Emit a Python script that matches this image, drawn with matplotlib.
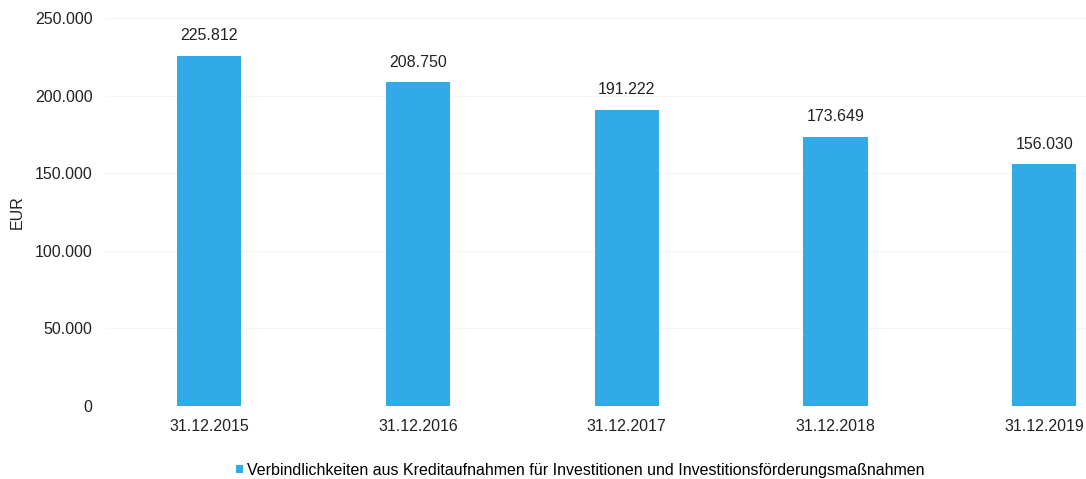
import matplotlib.pyplot as plt
from matplotlib.patches import Patch
from matplotlib.ticker import FuncFormatter

# Data
dates = ["31.12.2015", "31.12.2016", "31.12.2017", "31.12.2018", "31.12.2019"]
values = [225812, 208750, 191222, 173649, 156030]
series_name = "Verbindlichkeiten aus Kreditaufnahmen für Investitionen und Investitionsförderungsmaßnahmen"

bar_color = "#33aae8"

plt.rcParams["font.family"] = ["Liberation Sans", "DejaVu Sans"]


def de_fmt(v, pos=None):
    return f"{int(round(v)):,}".replace(",", ".")


fig = plt.figure(figsize=(10.86, 4.79), dpi=100)
ax = fig.add_axes([0.0967, 0.1524, 0.9033, 0.809])

x = range(len(dates))
bars = ax.bar(x, values, width=0.307, color=bar_color, zorder=2)

for b, v in zip(bars, values):
    ax.annotate(de_fmt(v), (b.get_x() + b.get_width() / 2, v),
                xytext=(0, 9), textcoords="offset points",
                ha="center", va="bottom", fontsize=11.5, color="#222222")

ax.set_ylim(0, 250000)
ax.set_xlim(-0.5, 4.2)
ax.set_yticks(range(0, 250001, 50000))
ax.yaxis.set_major_formatter(FuncFormatter(de_fmt))
ax.set_xticks(list(x))
ax.set_xticklabels(dates)
ax.tick_params(axis="both", length=0, labelsize=11.5, labelcolor="#222222")
ax.tick_params(axis="y", pad=9)
ax.tick_params(axis="x", pad=9)
ax.grid(axis="y", color="#f5f5f5", linewidth=1, zorder=0)
for s in ax.spines.values():
    s.set_visible(False)

ax.set_ylabel("EUR", fontsize=11.5, color="#222222", labelpad=7.5)

fig.legend(handles=[Patch(facecolor=bar_color, label=series_name)],
           loc="center", bbox_to_anchor=(580 / 1086, 1 - 470 / 479), frameon=False,
           fontsize=11.5, handlelength=0.45, handleheight=0.45, handletextpad=0.25)

plt.savefig("out.png", dpi=100)
